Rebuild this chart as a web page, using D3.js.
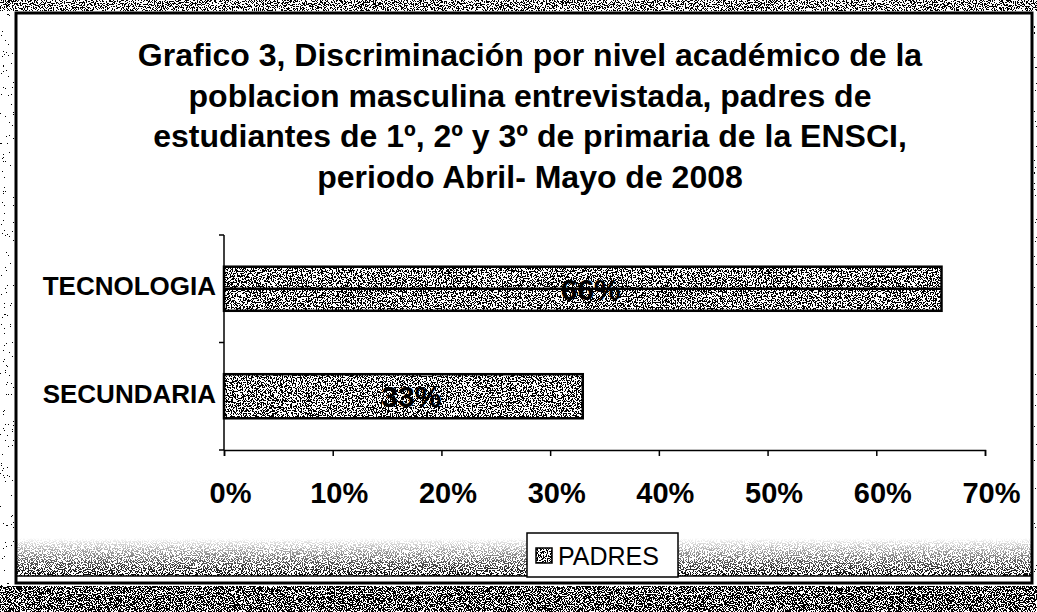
<!DOCTYPE html>
<html>
<head>
<meta charset="utf-8">
<script src="https://cdn.jsdelivr.net/npm/d3@7"></script>
<style>
  html, body { margin: 0; padding: 0; background: #fff; }
  svg { display: block; font-family: Arial, "Liberation Sans", sans-serif; }
</style>
</head>
<body>
<div id="chart"></div>
<script>
// --- データ ---
const categories = ["TECNOLOGIA", "SECUNDARIA"];
const padres = [0.66, 0.33];
const barLabels = ["66%", "33%"];
const tickValues = [0, 0.1, 0.2, 0.3, 0.4, 0.5, 0.6, 0.7];
const seriesName = "PADRES";
const titleLines = [
  "Grafico 3, Discriminación por nivel académico de la",
  "poblacion masculina entrevistada, padres de",
  "estudiantes de 1º, 2º y 3º de primaria de la ENSCI,",
  "periodo Abril- Mayo de 2008"
];

const W = 1037, H = 612;
const svg = d3.select("#chart").append("svg")
  .attr("width", W).attr("height", H);

// --- スキャン風のざらつき (フィルタ) ---
// c が大きいほど黒点が多い
const defs = svg.append("defs");
function speckle(id, freq, c, seed) {
  const f = defs.append("filter").attr("id", id)
    .attr("x", 0).attr("y", 0).attr("width", 1).attr("height", 1);
  f.append("feTurbulence").attr("type", "fractalNoise")
    .attr("baseFrequency", freq).attr("numOctaves", 2).attr("seed", seed).attr("result", "n");
  f.append("feColorMatrix").attr("in", "n").attr("type", "matrix")
    .attr("values", `0 0 0 0 0  0 0 0 0 0  0 0 0 0 0  5 0 0 0 ${c - 2.5}`).attr("result", "a");
  f.append("feComponentTransfer").attr("in", "a")
    .append("feFuncA").attr("type", "discrete").attr("tableValues", "0 1");
}
speckle("speckBar", 0.8, 0.45, 4);
speckle("speckDense", 0.9, 0.6, 7);
speckle("speckTop", 0.9, 0.35, 5);
speckle("speckLight", 0.9, -0.7, 2);
speckle("speckMid", 0.85, 0.45, 9);

const grad = defs.append("linearGradient").attr("id", "fadeUp")
  .attr("x1", 0).attr("y1", 0).attr("x2", 0).attr("y2", 1);
grad.append("stop").attr("offset", "0%").attr("stop-color", "#000");
grad.append("stop").attr("offset", "100%").attr("stop-color", "#fff");
defs.append("mask").attr("id", "fadeMask").attr("maskContentUnits", "objectBoundingBox")
  .append("rect").attr("width", 1).attr("height", 1).attr("fill", "url(#fadeUp)");

// 外側のざらついた帯
svg.append("rect").attr("x", 0).attr("y", 0).attr("width", W).attr("height", 11)
  .attr("filter", "url(#speckTop)");
svg.append("rect").attr("x", 0).attr("y", 586).attr("width", W).attr("height", H - 586)
  .attr("filter", "url(#speckDense)");
svg.append("rect").attr("x", 0).attr("y", 11).attr("width", 14).attr("height", 575)
  .attr("filter", "url(#speckLight)");
svg.append("rect").attr("x", 1034).attr("y", 11).attr("width", 3).attr("height", 575)
  .attr("filter", "url(#speckLight)");

// 下部のグラデーション状のノイズ
svg.append("g").attr("mask", "url(#fadeMask)")
  .append("rect").attr("x", 16).attr("y", 538).attr("width", 1016).attr("height", 38)
  .attr("filter", "url(#speckMid)");
svg.append("line").attr("x1", 16).attr("x2", 1032).attr("y1", 576).attr("y2", 576)
  .attr("stroke", "#000").attr("stroke-width", 1.5);

// 外枠
svg.append("rect").attr("x", 16).attr("y", 13).attr("width", 1016).attr("height", 570)
  .attr("fill", "none").attr("stroke", "#000").attr("stroke-width", 3);

// --- タイトル ---
svg.append("g").selectAll("text")
  .data(titleLines)
  .enter().append("text")
  .attr("x", 530)
  .attr("y", (d, i) => 66 + i * 40.7)
  .attr("text-anchor", "middle")
  .style("font-size", "32px").style("font-weight", "bold")
  .text(d => d);

// --- スケール ---
const x = d3.scaleLinear().domain([0, 0.7]).range([224, 985]);
const y = d3.scaleBand().domain(categories).range([235, 450])
  .paddingInner(0.59).paddingOuter(0.295);

// x軸
const xAxis = svg.append("g")
  .attr("transform", "translate(0,450)")
  .call(d3.axisBottom(x).tickValues(tickValues).tickFormat(d3.format(".0%")).tickSize(6).tickSizeOuter(6));
xAxis.select(".domain").attr("stroke-width", 1.5);
xAxis.selectAll(".tick line").attr("stroke-width", 1.5);
xAxis.selectAll(".tick text")
  .attr("y", 53).attr("dy", 0).attr("x", 6)
  .style("font-size", "29px").style("font-weight", "bold")
  .attr("fill", "#000").attr("font-family", "Arial, 'Liberation Sans', sans-serif");

// y軸
svg.append("line").attr("x1", 224).attr("x2", 224).attr("y1", 235).attr("y2", 450)
  .attr("stroke", "#000").attr("stroke-width", 1.5);
const bounds = [235, (235 + 450) / 2, 450];
svg.append("g").selectAll("line").data(bounds).enter().append("line")
  .attr("x1", 219).attr("x2", 224).attr("y1", d => d).attr("y2", d => d)
  .attr("stroke", "#000").attr("stroke-width", 1.5);

svg.append("g").selectAll("text")
  .data(categories)
  .enter().append("text")
  .attr("x", 216)
  .attr("y", d => y(d) + y.bandwidth() / 2)
  .attr("dy", "0.25em")
  .attr("text-anchor", "end")
  .style("font-size", "26px").style("font-weight", "bold")
  .text(d => d);

// --- バー ---
const bars = svg.append("g").selectAll("g")
  .data(categories.map((c, i) => ({ cat: c, value: padres[i], label: barLabels[i] })))
  .enter().append("g");

bars.append("rect")
  .attr("x", x(0)).attr("y", d => y(d.cat))
  .attr("width", d => x(d.value) - x(0)).attr("height", y.bandwidth())
  .attr("fill", "#fff");
bars.append("rect")
  .attr("x", x(0)).attr("y", d => y(d.cat))
  .attr("width", d => x(d.value) - x(0)).attr("height", y.bandwidth())
  .attr("filter", "url(#speckBar)");
bars.append("rect")
  .attr("x", x(0)).attr("y", d => y(d.cat))
  .attr("width", d => x(d.value) - x(0)).attr("height", y.bandwidth())
  .attr("fill", "none").attr("stroke", "#000").attr("stroke-width", 2.5);

// 最初のバーの中央線（原図のまま）
bars.filter((d, i) => i === 0).append("line")
  .attr("x1", x(0)).attr("x2", d => x(d.value))
  .attr("y1", d => y(d.cat) + y.bandwidth() / 2).attr("y2", d => y(d.cat) + y.bandwidth() / 2)
  .attr("stroke", "#000").attr("stroke-width", 2.5);

bars.append("text")
  .attr("x", d => (x(0) + x(d.value)) / 2 + 8)
  .attr("y", d => y(d.cat) + y.bandwidth() / 2)
  .attr("dy", "0.36em")
  .attr("text-anchor", "middle")
  .style("font-size", "30px").style("font-weight", "bold")
  .text(d => d.label);

// --- 凡例 ---
const lg = svg.append("g");
lg.append("rect").attr("x", 527).attr("y", 533).attr("width", 151).attr("height", 44)
  .attr("fill", "#fff").attr("stroke", "#000").attr("stroke-width", 1.5);
lg.append("rect").attr("x", 536).attr("y", 548).attr("width", 16).attr("height", 15)
  .attr("fill", "#fff");
lg.append("rect").attr("x", 536).attr("y", 548).attr("width", 16).attr("height", 15)
  .attr("filter", "url(#speckBar)");
lg.append("rect").attr("x", 536).attr("y", 548).attr("width", 16).attr("height", 15)
  .attr("fill", "none").attr("stroke", "#000").attr("stroke-width", 1.5);
lg.append("text").attr("x", 558).attr("y", 565)
  .style("font-size", "25px")
  .text(seriesName);
</script>
</body>
</html>
